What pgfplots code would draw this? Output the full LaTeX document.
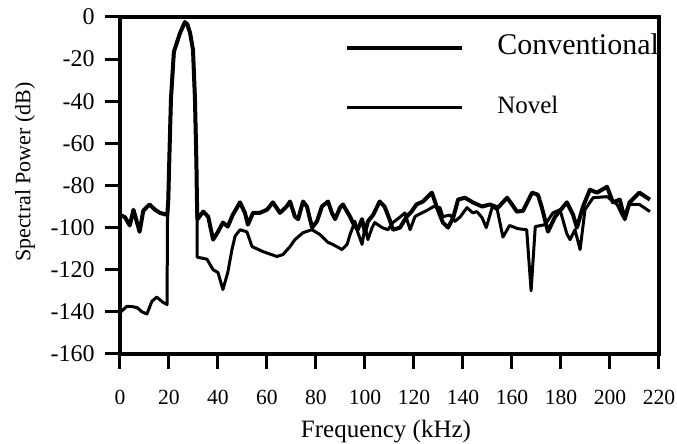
\documentclass[border=0pt]{standalone}
\usepackage{fontspec}
\setmainfont{Liberation Serif}
\usepackage{pgfplots}
\pgfplotsset{compat=1.18}
\usepackage{pgfplotstable}

\pgfplotstableread{
f p
0 -94
2 -95
4 -99
5.5 -91.5
8 -102
9.5 -92
12 -89
14.3 -91.5
16.3 -93
19.3 -94
19.7 -87
20.3 -60
20.8 -39
22 -16.5
24.5 -7.6
26.5 -2.4
27.5 -3.5
28.6 -7.6
29.8 -15.6
30.6 -39
31.2 -70
31.4 -87
31.6 -96
34 -92.4
36 -94.8
38 -105.7
40 -102
42 -97.6
44 -99.5
46 -94
49 -88
51 -93
52.2 -98.6
54.3 -93
57 -93
60 -91.5
62.4 -88
65.3 -93
68 -90
69.4 -87.6
71.4 -94.8
72.7 -96
74.7 -87.6
76.3 -90
78.4 -100
80.4 -97
82.4 -90
84.9 -87.6
86.5 -93
87.8 -96
89.8 -90.5
91 -89
93.9 -94.8
95 -97.6
97 -101
98.8 -96
100 -102.4
101.2 -97
103.3 -94
106 -87.6
108 -90
110 -96
111.4 -101
114.3 -100
117 -94.8
119 -92.4
121 -89
123.7 -87.6
127.3 -83.4
129.4 -90.5
131.8 -97.6
133.9 -100
136 -95.3
138 -86.7
140.8 -85.8
144 -88
147.8 -90
151 -89
154.3 -90.5
158 -85.8
160 -89
162 -92.4
164.5 -92
168.2 -83.4
170.6 -84.4
172.2 -90.5
174.7 -101.9
177.6 -94.8
182.4 -88
184.9 -93.8
186.5 -100
189 -90
191.8 -82
194.7 -83.4
198.8 -80.6
201.2 -88
204 -86.7
206 -96
208 -88
212 -83.4
216.3 -86.7
}\conv

\pgfplotstableread{
f p
0 -140.3
2.8 -137.4
5 -137.5
7 -138
9 -140
11 -141
13 -135
15 -133
17.6 -135.5
19.2 -136.5
19.4 -94
19.7 -87
20.3 -60
20.8 -39
22 -16.5
24.5 -7.6
26.5 -2.4
27.5 -3.5
28.6 -7.6
29.8 -15.6
30.6 -39
31.2 -70
31.4 -87
31.5 -114
35.5 -115
38 -120
40 -121.3
42 -129.4
44 -121.3
45.7 -110.4
47 -104
49 -101
51.8 -102
53.9 -109
58.4 -111.4
64 -113.7
66.5 -112.8
69.4 -109
71.4 -105.7
74.7 -102.4
78.4 -101
81.6 -103.3
84.9 -107
86.9 -108
90.6 -110.4
92.7 -108
93.9 -103.3
95.9 -97
97 -102
98.8 -108
100 -99.5
101.2 -105.7
102.9 -100
104 -97.6
107 -100
109.4 -101
111.4 -97.6
114.3 -95
116.3 -93
118.4 -101
120.4 -94.8
121.5 -94
125 -92
128 -90
130.6 -90.5
131.8 -94.8
134.7 -94
136.7 -97
138.8 -95
141.6 -90.5
144 -93
145.7 -92.4
147.8 -95.3
149.5 -100
152 -90
154 -91.5
156.3 -104.5
159 -99
162.4 -100.5
166 -101
167.8 -130
169.5 -99.5
173.5 -98.6
176.7 -93
179.6 -91.5
182.4 -103
183.7 -105.7
185.7 -101
187.8 -110.4
189.8 -91.5
193.1 -85.8
198.8 -85.3
202.9 -89
205.3 -94.8
208 -89
212 -89
216.3 -92.4
}\novel

\begin{document}
\begin{tikzpicture}
\begin{axis}[
  width=269.5pt, height=168.5pt, scale only axis,
  xmin=0, xmax=220, ymin=-160, ymax=0,
  xtick={0,20,...,220},
  ytick={0,-20,-40,-60,-80,-100,-120,-140,-160},
  yticklabels={0,-20,-40,-60,-80,-100,-120,-140,-160},
  xticklabels={0,20,40,60,80,100,120,140,160,180,200,220},
  tick align=outside, major tick length=7.5pt,
  tick style={line width=1.5pt, black},
  axis line style={line width=1.8pt},
  xtick pos=bottom, ytick pos=left,
  yticklabel style={font=\fontsize{12}{12}\selectfont, anchor=east, inner sep=0pt, xshift=-5pt},
  xticklabel style={font=\fontsize{10.8}{10.8}\selectfont, anchor=north, inner sep=0pt, yshift=-10.5pt},
  xlabel={Frequency (kHz)},
  ylabel={Spectral Power (dB)},
  xlabel style={font=\fontsize{12.5}{12.5}\selectfont, at={(axis description cs:0.4935,0)}, anchor=center, yshift=-39pt},
  ylabel style={font=\fontsize{11}{11}\selectfont, at={(axis description cs:-0.176,0.54)}, anchor=center},
  legend style={at={(axis cs:91.8,-7.5)}, anchor=north west, draw=none, fill=none,
    inner sep=0pt, row sep=19.5pt, column sep=16.5pt,
    nodes={inner sep=0pt, anchor=base west}},
  legend cell align=left,
  legend image code/.code={\draw[#1] (0pt,0.3em) -- (57.5pt,0.3em);},
]
\addplot[black, line width=2pt, line join=round] table[x=f,y=p]{\conv};
\addlegendentry{\fontsize{15}{15}\selectfont Conventional}
\addplot[black, line width=1.5pt, line join=round] table[x=f,y=p]{\novel};
\addlegendentry{\fontsize{12.5}{12.5}\selectfont Novel}
\end{axis}
\pgfresetboundingbox
\path (-60pt,-45pt) rectangle (278.5pt,177pt);
\end{tikzpicture}
\end{document}
